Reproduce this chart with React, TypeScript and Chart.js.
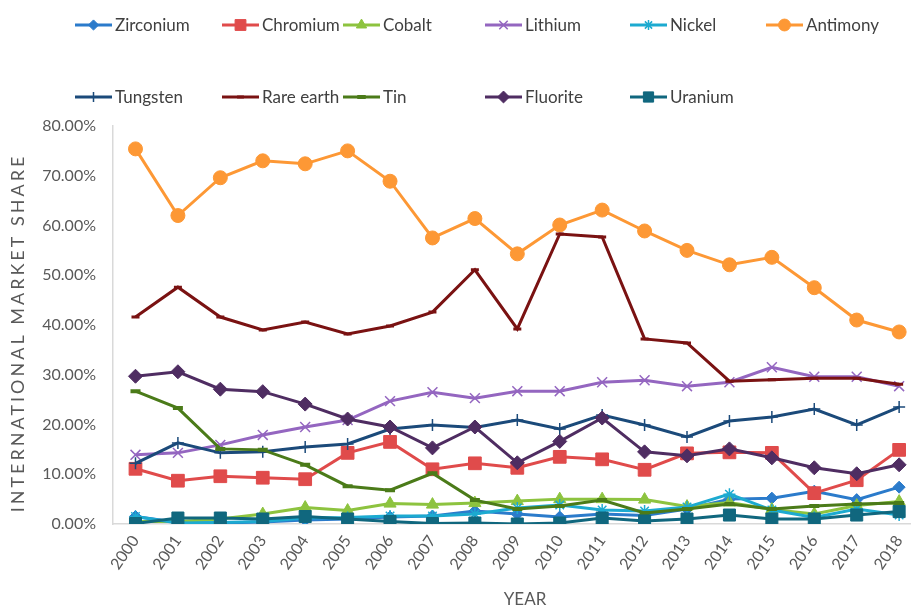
import React, { useEffect, useRef } from 'react';
import { Chart, registerables } from 'chart.js';
import { drawPoint } from 'chart.js/helpers';

Chart.register(...registerables);

// Years on the category axis
const years = [
  '2000', '2001', '2002', '2003', '2004', '2005', '2006', '2007', '2008', '2009',
  '2010', '2011', '2012', '2013', '2014', '2015', '2016', '2017', '2018',
];

// International market share (%) per mineral
const zirconium = [1.5, 0.3, 0.2, 0.4, 0.8, 1.0, 1.4, 1.6, 2.6, 2.0, 1.4, 2.0, 1.7, 3.0, 5.0, 5.2, 6.6, 4.9, 7.4];
const chromium = [11.1, 8.7, 9.6, 9.3, 9.0, 14.3, 16.5, 11.0, 12.2, 11.3, 13.5, 13.0, 10.9, 14.2, 14.4, 14.3, 6.2, 8.8, 14.9];
const cobalt = [0.5, 0.5, 1.0, 2.0, 3.3, 2.7, 4.1, 3.9, 4.2, 4.6, 5.0, 5.0, 4.9, 3.5, 4.3, 2.9, 2.0, 3.7, 4.5];
const lithium = [13.9, 14.3, 15.9, 17.9, 19.5, 20.9, 24.7, 26.5, 25.3, 26.7, 26.7, 28.5, 28.9, 27.7, 28.5, 31.5, 29.6, 29.6, 27.7];
const nickel = [1.5, 0.2, 0.3, 0.5, 1.2, 1.3, 1.6, 1.6, 2.0, 3.2, 3.8, 2.8, 2.6, 3.4, 6.0, 2.8, 1.3, 3.0, 1.8];
const antimony = [75.4, 62.0, 69.6, 73.0, 72.4, 75.0, 68.9, 57.5, 61.4, 54.3, 60.1, 63.1, 58.9, 55.0, 52.1, 53.6, 47.5, 41.0, 38.6];
const tungsten = [12.2, 16.3, 14.3, 14.5, 15.5, 16.1, 19.1, 19.9, 19.4, 20.9, 19.1, 21.9, 19.9, 17.5, 20.7, 21.5, 23.1, 19.9, 23.5];
const rareEarth = [41.6, 47.6, 41.6, 39.0, 40.6, 38.2, 39.8, 42.6, 51.1, 39.2, 58.3, 57.7, 37.2, 36.4, 28.7, 29.0, 29.3, 29.3, 28.1];
const tin = [26.7, 23.3, 15.1, 14.9, 11.9, 7.6, 6.8, 10.2, 4.8, 3.0, 3.6, 4.8, 2.2, 3.0, 4.0, 3.0, 3.6, 4.0, 4.2];
const fluorite = [29.7, 30.6, 27.1, 26.6, 24.1, 21.1, 19.5, 15.3, 19.5, 12.3, 16.6, 21.3, 14.5, 13.7, 15.1, 13.3, 11.3, 10.1, 11.9];
const uranium = [0.1, 1.2, 1.2, 1.0, 1.5, 1.0, 0.5, 0.1, 0.2, 0.0, 0.2, 1.2, 0.6, 1.0, 1.8, 1.0, 1.0, 1.8, 2.5];

const yMin = 0;
const yMax = 80;
const yStep = 10;

const xTitle = 'YEAR';
const yTitle = 'INTERNATIONAL MARKET SHARE';

type Style = {
  label: string;
  values: number[];
  color: string;
  pointStyle: string;
  radius: number;
  pointBorder: number;
};

const series: Style[] = [
  { label: 'Zirconium', values: zirconium, color: '#2B7BCB', pointStyle: 'rectRot', radius: 6, pointBorder: 1 },
  { label: 'Chromium', values: chromium, color: '#E04B4B', pointStyle: 'rect', radius: 9, pointBorder: 1 },
  { label: 'Cobalt', values: cobalt, color: '#8DC33F', pointStyle: 'triangle', radius: 7, pointBorder: 1 },
  { label: 'Lithium', values: lithium, color: '#9466C0', pointStyle: 'crossRot', radius: 7, pointBorder: 1.5 },
  { label: 'Nickel', values: nickel, color: '#1CAAD0', pointStyle: 'star', radius: 6, pointBorder: 1.5 },
  { label: 'Antimony', values: antimony, color: '#FD9835', pointStyle: 'circle', radius: 7, pointBorder: 1 },
  { label: 'Tungsten', values: tungsten, color: '#1B4A7A', pointStyle: 'cross', radius: 6, pointBorder: 1.5 },
  { label: 'Rare earth', values: rareEarth, color: '#7A1212', pointStyle: 'line', radius: 4, pointBorder: 3 },
  { label: 'Tin', values: tin, color: '#4B7B19', pointStyle: 'line', radius: 5, pointBorder: 4 },
  { label: 'Fluorite', values: fluorite, color: '#4F2D62', pointStyle: 'rectRot', radius: 7, pointBorder: 1 },
  { label: 'Uranium', values: uranium, color: '#10677E', pointStyle: 'rect', radius: 8.5, pointBorder: 1 },
];

const FONT = "Lato, 'Open Sans', sans-serif";
const TEXT = '#595959';

// Two-row legend with fixed columns, drawn above the plot
const gridLegend = {
  id: 'gridLegend',
  afterDraw(chart: any) {
    const ctx: CanvasRenderingContext2D = chart.ctx;
    const cols = [75, 222, 343, 485, 630, 766];
    const rows = [25, 97];
    chart.data.datasets.forEach((ds: any, i: number) => {
      const row = i < 6 ? 0 : 1;
      const x = cols[row === 0 ? i : i - 6];
      const y = rows[row];
      ctx.save();
      ctx.strokeStyle = ds.borderColor;
      ctx.lineWidth = 3;
      ctx.beginPath();
      ctx.moveTo(x, y);
      ctx.lineTo(x + 37, y);
      ctx.stroke();
      ctx.fillStyle = ds.pointBackgroundColor;
      ctx.strokeStyle = ds.pointBorderColor;
      ctx.lineWidth = ds.pointBorderWidth;
      drawPoint(ctx, {
        pointStyle: ds.pointStyle,
        radius: ds.pointRadius * 0.85,
        rotation: 0,
        borderWidth: ds.pointBorderWidth,
      } as any, x + 18.5, y);
      ctx.fillStyle = '#404040';
      ctx.font = `17px ${FONT}`;
      ctx.textBaseline = 'middle';
      ctx.textAlign = 'left';
      ctx.fillText(ds.label, x + 40, y + 1);
      ctx.restore();
    });
  },
};

// Axis titles, drawn in the space the axes reserve
const axisTitles = {
  id: 'axisTitles',
  afterDraw(chart: any) {
    const ctx: any = chart.ctx;
    const area = chart.chartArea;
    ctx.save();
    ctx.fillStyle = TEXT;
    ctx.textAlign = 'center';
    ctx.textBaseline = 'middle';
    ctx.font = `17px ${FONT}`;
    ctx.letterSpacing = '0px';
    ctx.fillText(xTitle, 525, 600);
    ctx.translate(18, (area.top + area.bottom) / 2 + 8);
    ctx.rotate(-Math.PI / 2);
    ctx.font = `18px ${FONT}`;
    ctx.letterSpacing = '3px';
    ctx.fillText(yTitle, 0, 0);
    ctx.restore();
  },
};

export default function App() {
  const canvasRef = useRef<HTMLCanvasElement | null>(null);

  useEffect(() => {
    document.body.style.margin = '0';
    const canvas = canvasRef.current;
    if (!canvas) return;

    const datasets = series.map((s, i) => ({
      label: s.label,
      data: s.values.map((v, idx) => ({ x: idx, y: v })),
      borderColor: s.color,
      backgroundColor: s.color,
      pointBackgroundColor: s.color,
      pointBorderColor: s.color,
      pointBorderWidth: s.pointBorder,
      pointStyle: s.pointStyle,
      pointRadius: s.radius,
      borderWidth: 3,
      tension: 0,
      order: -i,
    }));

    const chart = new Chart(canvas, {
      type: 'line',
      data: { datasets } as any,
      options: {
        animation: false,
        responsive: false,
        maintainAspectRatio: false,
        layout: { padding: { top: 126, left: 0, right: 0, bottom: 0 } },
        plugins: {
          legend: { display: false },
          tooltip: { enabled: false },
        },
        scales: {
          x: {
            type: 'linear',
            min: -0.53,
            max: 18.26,
            grid: { display: false, drawTicks: false },
            border: { display: true, color: '#D9D9D9', width: 1.5 },
            afterBuildTicks: (scale: any) => {
              scale.ticks = years.map((_, i) => ({ value: i }));
            },
            afterFit: (scale: any) => {
              scale.height = 86;
            },
            ticks: {
              autoSkip: false,
              minRotation: 55,
              maxRotation: 55,
              padding: 8,
              color: TEXT,
              font: { family: FONT, size: 16 },
              callback: (v: any) => years[v as number] ?? '',
            },
          },
          y: {
            min: yMin,
            max: yMax,
            grid: { display: false, drawTicks: false },
            border: { display: true, color: '#D9D9D9', width: 1.5 },
            afterFit: (scale: any) => {
              scale.width = 113;
            },
            ticks: {
              stepSize: yStep,
              padding: 17,
              color: TEXT,
              font: { family: FONT, size: 16 },
              callback: (v: any) => `${Number(v).toFixed(2)}%`,
            },
          },
        },
      },
      plugins: [gridLegend, axisTitles],
    } as any);

    return () => chart.destroy();
  }, []);

  return (
    <div style={{ width: 923, height: 610, background: '#fff' }}>
      <canvas ref={canvasRef} width={923} height={610} style={{ display: 'block' }} />
    </div>
  );
}
